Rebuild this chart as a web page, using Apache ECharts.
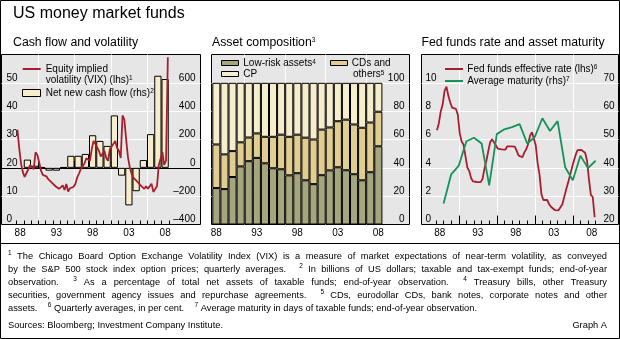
<!DOCTYPE html>
<html><head><meta charset="utf-8">
<script src="https://cdn.jsdelivr.net/npm/echarts@6/dist/echarts.min.js"></script>
<style>html,body{margin:0;padding:0;background:#fff}#c{width:620px;height:339px}</style>
</head><body><div id="c"></div>
<script>
// ---------------- DATA ----------------
const labelYears = [1988, 1993, 1998, 2003, 2008];
const yearLabels = ['88', '93', '98', '03', '08'];

// Panel 1: net new cash flow (rhs, USD bn), end-of-year
const flowYears = [1989,1990,1991,1992,1993,1994,1995,1996,1997,1998,1999,2000,2001,2002,2003,2004,2005,2006,2007,2008];
const netNewCashFlow = [58,15,5,-20,-20,5,85,85,98,230,190,155,370,-55,-265,-165,55,238,650,627];

// Panel 1: VIX quarterly averages (lhs), 1988Q1..2008Q4
const vixStartYear = 1988;
const vixQuarterly = [
  33.5,27,21.5,18.5,  16.8,17.2,19.5,21,  21.2,19.5,25.5,24.5,  22,19,17.5,17.8,
  17,16,15.5,14.8,  14.4,13.5,13.4,12.6,  12,13.8,12.2,14.3,  11.6,12.8,12.2,13.3,
  14.4,16.6,18,19.6,  20.2,21.5,23.4,23.6,  22.5,26.5,29.5,28.4,  27.2,26,24,23.6,
  26,23.5,22.5,26.5,  27.5,26.8,29.5,27,  26,23.5,38.5,37,  30,23.7,20.2,17.9,
  16.5,15.8,15.2,14.5,  13.8,13.2,12.6,13.5,  12.6,13.5,14.4,11.5,  11.5,13.5,21,21,
  25.5,21,22.5,59
];

// Panel 2: asset composition, % of total net assets, end-of-year
const compYears = [1988,1989,1990,1991,1992,1993,1994,1995,1996,1997,1998,1999,2000,2001,2002,2003,2004,2005,2006,2007,2008];
const lowRisk   = [25.7,25,33.5,41,44.7,47,43.2,39.7,39,34.7,36.2,31.2,28.5,34.8,38.2,40.4,38.3,35.5,31.2,36.9,55.2];
const cdsOthers = [30.8,24.5,18.3,17,16.7,17.3,18.7,22.2,24.4,27.2,27.2,30.1,31.5,32.2,30.3,32.5,35.7,35.1,37.1,35.1,24.4];
const cpShare   = [43.5,50.5,48.2,42,38.6,35.7,38.1,38.1,36.6,38.1,36.6,38.7,40,33,31.5,27.1,26,29.4,31.7,28,20.4];

// Panel 3: Fed funds effective rate, quarterly averages (lhs), 1988Q1..2008Q4
const fedStartYear = 1988;
const fedFunds = [
  6.66,7.15,7.98,8.47,  9.44,9.73,9.08,8.61,  8.25,8.24,8.16,7.74,  6.43,5.86,5.64,4.82,
  4.02,3.77,3.26,3.04,  3.04,3.00,3.06,2.99,  3.21,3.94,4.49,5.17,  5.81,6.02,5.80,5.72,
  5.36,5.24,5.31,5.28,  5.28,5.52,5.53,5.51,  5.52,5.50,5.53,4.86,  4.73,4.75,5.09,5.31,
  5.68,6.27,6.52,6.47,  5.59,4.33,3.50,2.13,  1.73,1.75,1.74,1.44,  1.25,1.25,1.02,1.00,
  1.00,1.03,1.43,1.95,  2.47,2.94,3.46,3.98,  4.46,4.91,5.25,5.25,  5.26,5.25,5.07,4.50,
  3.18,2.09,1.94,0.51
];
// Panel 3: average maturity in days (rhs), end-of-year
const maturityYears = [1988,1989,1990,1991,1992,1993,1994,1995,1996,1997,1998,1999,2000,2001,2002,2003,2004,2005,2006,2007,2008];
const avgMaturity = [27.4,37.7,40.8,49.4,50.6,48.6,33.8,51.9,53.6,54.4,55.4,48.6,50.9,57.5,53,56.5,40.2,35.6,44.3,39.9,42.5];

// axis tick positions (year boundaries)
const tickYears = [1988,1989,1990,1991,1992,1993,1994,1995,1996,1997,1998,1999,2000,2001,2002,2003,2004,2005,2006,2007,2008,2009];
const bigTickYears = [1991,1996,2001,2006];
const compGridYears = [1992,1997,2002,2007];

// ---------------- STYLE ----------------
const FONT = '"Liberation Sans", Arial, Helvetica, sans-serif';
const RED = '#A91E2F';
const GREEN = '#13935A';
const BG = '#E6E6E6';
const CREAM = '#F6EDCC';
const TAN = '#E2CD90';
const OLIVE = '#A5A57E';

// panel geometry (grid rects) and x ranges in years
const P = [
  {left: 1.5,   top: 54.5, width: 199, height: 170, min: 1985.931, max: 2013.379, x0: 16.5,  yw: 7.25},
  {left: 211.5, top: 54.5, width: 198, height: 170, min: 1987.90,  max: 2012.344, x0: 212.3, yw: 8.1},
  {left: 421.5, top: 54.5, width: 197, height: 170, min: 1986.092, max: 2012.013, x0: 436,   yw: 7.6}
];
// bar sub-grids aligned to year bands
const barGrid1 = {left: P[0].x0 + (flowYears[0] - 1988) * P[0].yw, top: 54.5, width: flowYears.length * P[0].yw, height: 170};
const barGrid2 = {left: P[1].x0, top: 54.5, width: compYears.length * P[1].yw, height: 170};

const chart = echarts.init(document.getElementById('c'), null, {renderer: 'canvas'});

function labelAxis(g, ticks, len) {
  return {
    type: 'value', gridIndex: g, min: P[g].min, max: P[g].max, position: 'bottom',
    axisLine: {show: false},
    axisTick: ticks ? {show: true, inside: true, length: len, customValues: ticks, lineStyle: {color: '#000', width: 1}} : {show: false},
    axisLabel: {show: true, customValues: labelYears.map(y => y + 0.5),
      formatter: v => yearLabels[labelYears.indexOf(Math.floor(v))] || '',
      margin: 4, fontSize: 10, fontFamily: FONT, color: '#000'},
    splitLine: {show: false}
  };
}
function gridAxis(g, vals, len, showTick) {
  return {
    type: 'value', gridIndex: g, min: P[g].min, max: P[g].max, position: 'bottom',
    axisLine: {show: false},
    axisTick: {show: showTick, inside: true, length: len, customValues: vals, lineStyle: {color: '#000', width: 1}},
    axisLabel: {show: false},
    splitLine: {show: true, lineStyle: {color: '#fff', width: 1}}
  };
}
function yAx(g, pos, min, max, interval, split, margin, fmt) {
  return {
    type: 'value', gridIndex: g, position: pos, min, max, interval,
    axisLine: {show: false}, axisTick: {show: false},
    axisLabel: {inside: true, verticalAlign: 'bottom', showMaxLabel: false, showMinLabel: true,
      margin, fontSize: 10, fontFamily: FONT, color: '#000', formatter: fmt},
    splitLine: {show: split, showMinLine: false, showMaxLine: false, lineStyle: {color: '#fff', width: 1}}
  };
}
const dashFmt = v => (v < 0 ? '\u2013' + Math.abs(v) : String(v));

// ---------------- GRAPHICS (titles, legends, notes) ----------------
const G = [];
const RICH = {s: {fontSize: 6.5, fontFamily: FONT, verticalAlign: 'top', lineHeight: 7, fill: '#000'}};
function txt(x, y, text, size, extra) {
  G.push(Object.assign({type: 'text', x, y, z: 100, silent: true,
    style: Object.assign({text, fontSize: size, fontFamily: FONT, fill: '#000',
      align: 'left', textAlign: 'left', verticalAlign: 'middle', textVerticalAlign: 'middle', rich: RICH}, extra || {})}));
}
function rect(x, y, w, h, fill) {
  G.push({type: 'rect', z: 100, silent: true, shape: {x, y, width: w, height: h}, style: {fill, stroke: '#000', lineWidth: 1}});
}
function hline(x1, x2, y, color, w) {
  G.push({type: 'line', z: 100, silent: true, shape: {x1, y1: y, x2, y2: y}, style: {stroke: color, lineWidth: w}});
}

// outer frame & separator
G.push({type: 'rect', z: 101, silent: true, shape: {x: 0.5, y: 0.5, width: 619, height: 338}, style: {fill: 'none', stroke: '#000', lineWidth: 1}});
hline(0, 620, 243.5, '#000', 1);

// titles
txt(13, 14, 'US money market funds', 16);
txt(13, 43, 'Cash flow and volatility', 12.3);
txt(212, 43, 'Asset composition{s|3}', 12.3);
txt(421.5, 43, 'Fed funds rate and asset maturity', 12.3);

// panel 1 legend
hline(22.7, 40.7, 69, RED, 2);
G.push({type: 'text', x: 45.7, y: 63.2, z: 100, silent: true,
  style: {text: 'Equity implied\nvolatility (VIX) (lhs){s|1}', fontSize: 10, fontFamily: FONT, fill: '#000', lineHeight: 11.6,
    align: 'left', verticalAlign: 'top', textVerticalAlign: 'top', rich: RICH}});
rect(22.5, 89.5, 18, 7, CREAM);
txt(45.7, 93, 'Net new cash flow (rhs){s|2}', 10);

// panel 2 legend
rect(221.5, 60.5, 17, 5, OLIVE);
txt(243.3, 63.3, 'Low-risk assets{s|4}', 10);
rect(221.5, 71.5, 17, 5, CREAM);
txt(243.3, 74.3, 'CP', 10);
rect(330.5, 60.5, 17, 5, TAN);
txt(351.7, 63.3, 'CDs and', 10);
txt(353, 74.3, 'others{s|5}', 10);

// panel 3 legend
hline(445, 463, 69, RED, 2);
txt(467.3, 69, 'Fed funds effective rate (lhs){s|6}', 10);
hline(445, 463, 81, GREEN, 2);
txt(467.3, 81, 'Average maturity (rhs){s|7}', 10);

// footnotes (justified)
const FN = 9.3, SUP = 6.5, X0 = 8, X1 = 607;
const mctx = document.createElement('canvas').getContext('2d');
function tw(t, s) { mctx.font = s + 'px ' + FONT; return mctx.measureText(t).width; }
function footLine(spec, y, justify) {
  const items = [];
  let wide = false;
  spec.split(' ').forEach(tok => {
    if (tok === '|') { wide = true; return; }
    const sup = tok[0] === '^';
    const t = sup ? tok.slice(1) : tok;
    items.push({t, sup, wide, w: tw(t, sup ? SUP : FN)});
    wide = false;
  });
  const sp = tw(' ', FN);
  let total = 0;
  items.forEach((it, i) => { total += it.w; if (i > 0) total += sp * (it.wide ? 4 : 1); });
  const extra = justify ? (X1 - X0 - total) / (items.length - 1) : 0;
  let x = X0;
  items.forEach((it, i) => {
    if (i > 0) x += sp * (it.wide ? 4 : 1) + extra;
    G.push({type: 'text', x, y: it.sup ? y - 3 : y, z: 100, silent: true,
      style: {text: it.t, fontSize: it.sup ? SUP : FN, fontFamily: FONT, fill: '#000', align: 'left', verticalAlign: 'middle', textVerticalAlign: 'middle'}});
    x += it.w;
  });
}
footLine('^1 The Chicago Board Option Exchange Volatility Index (VIX) is a measure of market expectations of near-term volatility, as conveyed', 256, true);
footLine('by the S&P 500 stock index option prices; quarterly averages. | ^2 In billions of US dollars; taxable and tax-exempt funds; end-of-year', 269, true);
footLine('observation. | ^3 As a percentage of total net assets of taxable funds; end-of-year observation. | ^4 Treasury bills, other Treasury', 282, true);
footLine('securities, government agency issues and repurchase agreements. | ^5 CDs, eurodollar CDs, bank notes, corporate notes and other', 295, true);
footLine('assets. | ^6 Quarterly averages, in per cent. | ^7 Average maturity in days of taxable funds; end-of-year observation.', 308, false);
txt(8, 325, 'Sources: Bloomberg; Investment Company Institute.', FN);
txt(607, 325, 'Graph A', FN, {align: 'right', textAlign: 'right'});

// ---------------- OPTION ----------------
const hiddenCat = (g, cats) => ({type: 'category', gridIndex: g, data: cats, boundaryGap: true, show: false});
const hiddenVal = (g, min, max) => ({type: 'value', gridIndex: g, min, max, show: false, splitLine: {show: false}});

const option = {
  animation: false,
  backgroundColor: '#fff',
  grid: [
    ...P.map(p => ({left: p.left, top: p.top, width: p.width, height: p.height, containLabel: false,
      show: true, backgroundColor: BG, borderColor: '#000', borderWidth: 1})),
    Object.assign({show: false, containLabel: false}, barGrid1),   // 3
    Object.assign({show: false, containLabel: false}, barGrid2)    // 4
  ],
  xAxis: [
    labelAxis(0, tickYears, 4),            // 0
    gridAxis(0, bigTickYears, 7, true),    // 1
    labelAxis(1, null, 0),                 // 2
    gridAxis(1, compGridYears, 0, false),  // 3
    labelAxis(2, tickYears, 4),            // 4
    gridAxis(2, bigTickYears, 9, true),    // 5
    {type: 'value', gridIndex: 0, min: P[0].min, max: P[0].max,   // 6: zero line of rhs
      axisLine: {show: true, onZero: true, onZeroAxisIndex: 1, lineStyle: {color: '#000', width: 1}},
      axisTick: {show: false}, axisLabel: {show: false}, splitLine: {show: false}},
    hiddenCat(3, flowYears.map(String)),   // 7
    hiddenCat(4, compYears.map(String))    // 8
  ],
  yAxis: [
    yAx(0, 'left', 0, 60, 10, true, 5),                 // 0
    yAx(0, 'right', -400, 800, 200, false, 5, dashFmt), // 1
    yAx(1, 'right', 0, 120, 20, true, 5),               // 2
    yAx(2, 'left', 0, 12, 2, true, 4),                  // 3
    yAx(2, 'right', 20, 80, 10, false, 4),              // 4
    hiddenVal(3, -400, 800),                            // 5
    hiddenVal(4, 0, 120)                                // 6
  ],
  graphic: {elements: G},
  series: [
    {
      name: 'Net new cash flow', type: 'bar', xAxisIndex: 7, yAxisIndex: 5, barCategoryGap: '0%', z: 2,
      data: netNewCashFlow,
      itemStyle: {color: CREAM, borderColor: '#000', borderWidth: 1}
    },
    {
      name: 'VIX', type: 'line', xAxisIndex: 0, yAxisIndex: 0, z: 3, showSymbol: false, symbol: 'none',
      data: vixQuarterly.map((v, i) => [vixStartYear + (i + 0.5) / 4, v]),
      lineStyle: {color: RED, width: 1.8}
    },
    {
      name: 'Low-risk assets', type: 'bar', stack: 'comp', xAxisIndex: 8, yAxisIndex: 6, barCategoryGap: '0%', z: 2,
      data: lowRisk, itemStyle: {color: OLIVE, borderColor: '#000', borderWidth: 1}
    },
    {
      name: 'CDs and others', type: 'bar', stack: 'comp', xAxisIndex: 8, yAxisIndex: 6, barCategoryGap: '0%', z: 2,
      data: cdsOthers, itemStyle: {color: TAN, borderColor: '#000', borderWidth: 1}
    },
    {
      name: 'CP', type: 'bar', stack: 'comp', xAxisIndex: 8, yAxisIndex: 6, barCategoryGap: '0%', z: 2,
      data: cpShare, itemStyle: {color: CREAM, borderColor: '#000', borderWidth: 1}
    },
    {
      name: 'Fed funds', type: 'line', xAxisIndex: 4, yAxisIndex: 3, z: 3, showSymbol: false, symbol: 'none',
      data: fedFunds.map((v, i) => [fedStartYear + (i + 0.5) / 4, v]),
      lineStyle: {color: RED, width: 1.8}
    },
    {
      name: 'Average maturity', type: 'line', xAxisIndex: 4, yAxisIndex: 4, z: 3, showSymbol: false, symbol: 'none',
      data: maturityYears.map((y, i) => [y + 1, avgMaturity[i]]),
      lineStyle: {color: GREEN, width: 1.8}
    }
  ]
};
chart.setOption(option);
</script>
</body></html>
